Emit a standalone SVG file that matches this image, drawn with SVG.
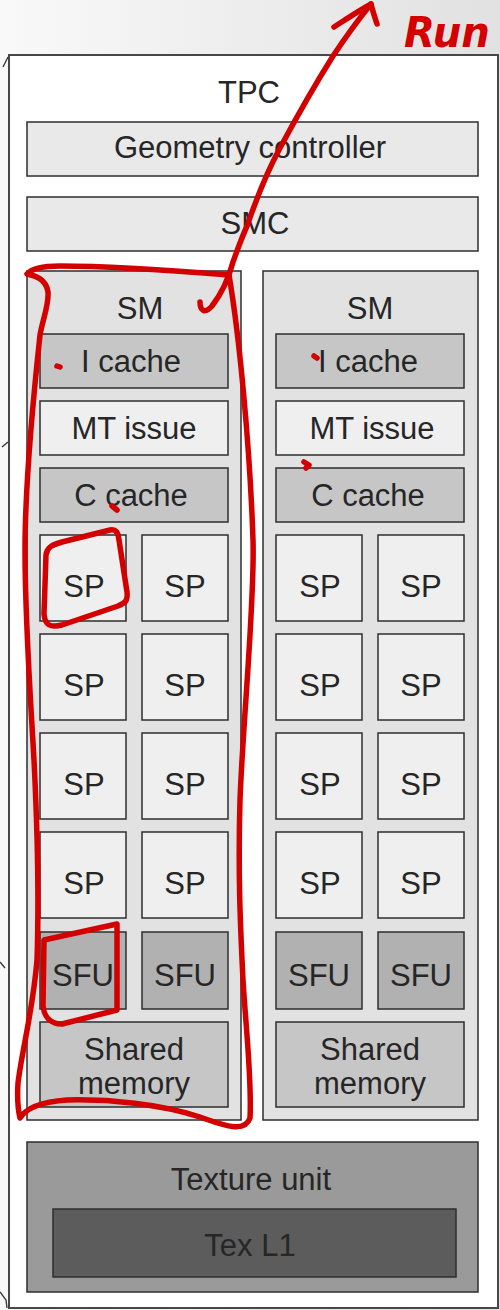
<svg xmlns="http://www.w3.org/2000/svg" width="500" height="1310" viewBox="0 0 500 1310">
  <defs>
    <linearGradient id="bg" x1="0" y1="0" x2="1" y2="0">
      <stop offset="0" stop-color="#f9f9f9"/>
      <stop offset="1" stop-color="#e1e1e1"/>
    </linearGradient>
    <style>
      .box { stroke: #2e2e2e; stroke-width: 1.5; }
      .lbl { font-family: "Liberation Sans", Arial, sans-serif; font-size: 31px; fill: #262626; text-anchor: middle; }
      .light { fill: #efefef; }
      .bar { fill: #e9e9e9; }
      .sm { fill: #e2e2e2; }
      .cache { fill: #c6c6c6; }
      .sfu { fill: #b1b1b1; }
      .tex { fill: #9a9a9a; }
      .texl1 { fill: #5c5c5c; }
      .ink { fill: none; stroke: #d40000; stroke-width: 5.5; stroke-linecap: round; stroke-linejoin: round; }
      .edge { fill: none; stroke: #333; stroke-width: 1.3; }
    </style>
  </defs>

  <!-- page background -->
  <rect x="0" y="0" width="500" height="1310" fill="url(#bg)"/>

  <!-- fragments of neighbouring arrows at the left margin -->
  <g id="margin-marks">
    <path class="edge" d="M3,67 L8,57 M8,57 L11,60"/>
    <path class="edge" d="M2,447 L8,442"/>
    <path class="edge" d="M0,962 L5,968"/>
    <path class="edge" d="M0,1292 L6,1300 L7,1308"/>
  </g>

  <!-- TPC -->
  <g id="tpc">
    <rect x="9" y="55" width="489" height="1253" fill="#ffffff" stroke="#474747" stroke-width="2"/>
    <text class="lbl" x="249" y="103">TPC</text>
  </g>

  <g id="geometry-controller">
    <rect class="box bar" x="27" y="122" width="451" height="54"/>
    <text class="lbl" x="250" y="158" font-size="33">Geometry controller</text>
  </g>

  <g id="smc">
    <rect class="box bar" x="27" y="197" width="451" height="54"/>
    <text class="lbl" x="255" y="234">SMC</text>
  </g>

  <!-- left SM -->
  <g id="sm-left">
    <rect class="box sm" x="27" y="271" width="214" height="849"/>
    <text class="lbl" x="140" y="319">SM</text>
  </g>
  <g id="sm-left-icache">
    <rect class="box cache" x="40" y="334" width="188" height="54"/>
    <text class="lbl" x="131" y="372">I cache</text>
  </g>
  <g id="sm-left-mtissue">
    <rect class="box light" x="40" y="401" width="188" height="54"/>
    <text class="lbl" x="134" y="439">MT issue</text>
  </g>
  <g id="sm-left-ccache">
    <rect class="box cache" x="40" y="468" width="188" height="54"/>
    <text class="lbl" x="131" y="506">C cache</text>
  </g>
  <g id="sm-left-sp1"><rect class="box light" x="40" y="535" width="86" height="86"/><text class="lbl" x="84" y="589" dy="8">SP</text></g>
  <g id="sm-left-sp2"><rect class="box light" x="142" y="535" width="86" height="86"/><text class="lbl" x="185" y="589" dy="8">SP</text></g>
  <g id="sm-left-sp3"><rect class="box light" x="40" y="634" width="86" height="86"/><text class="lbl" x="84" y="688" dy="8">SP</text></g>
  <g id="sm-left-sp4"><rect class="box light" x="142" y="634" width="86" height="86"/><text class="lbl" x="185" y="688" dy="8">SP</text></g>
  <g id="sm-left-sp5"><rect class="box light" x="40" y="733" width="86" height="86"/><text class="lbl" x="84" y="787" dy="8">SP</text></g>
  <g id="sm-left-sp6"><rect class="box light" x="142" y="733" width="86" height="86"/><text class="lbl" x="185" y="787" dy="8">SP</text></g>
  <g id="sm-left-sp7"><rect class="box light" x="40" y="832" width="86" height="86"/><text class="lbl" x="84" y="886" dy="8">SP</text></g>
  <g id="sm-left-sp8"><rect class="box light" x="142" y="832" width="86" height="86"/><text class="lbl" x="185" y="886" dy="8">SP</text></g>
  <g id="sm-left-sfu1"><rect class="box sfu" x="40" y="932" width="86" height="77"/><text class="lbl" x="83" y="986">SFU</text></g>
  <g id="sm-left-sfu2"><rect class="box sfu" x="142" y="932" width="86" height="77"/><text class="lbl" x="185" y="986">SFU</text></g>
  <g id="sm-left-shared">
    <rect class="box cache" x="40" y="1022" width="188" height="85"/>
    <text class="lbl" x="134" y="1060">Shared</text>
    <text class="lbl" x="134" y="1094">memory</text>
  </g>

  <!-- right SM -->
  <g id="sm-right">
    <rect class="box sm" x="263" y="271" width="215" height="849"/>
    <text class="lbl" x="370" y="319">SM</text>
  </g>
  <g id="sm-right-icache">
    <rect class="box cache" x="276" y="334" width="188" height="54"/>
    <text class="lbl" x="368" y="372">I cache</text>
  </g>
  <g id="sm-right-mtissue">
    <rect class="box light" x="276" y="401" width="188" height="54"/>
    <text class="lbl" x="372" y="439">MT issue</text>
  </g>
  <g id="sm-right-ccache">
    <rect class="box cache" x="276" y="468" width="188" height="54"/>
    <text class="lbl" x="368" y="506">C cache</text>
  </g>
  <g id="sm-right-sp1"><rect class="box light" x="276" y="535" width="86" height="86"/><text class="lbl" x="320" y="589" dy="8">SP</text></g>
  <g id="sm-right-sp2"><rect class="box light" x="378" y="535" width="86" height="86"/><text class="lbl" x="421" y="589" dy="8">SP</text></g>
  <g id="sm-right-sp3"><rect class="box light" x="276" y="634" width="86" height="86"/><text class="lbl" x="320" y="688" dy="8">SP</text></g>
  <g id="sm-right-sp4"><rect class="box light" x="378" y="634" width="86" height="86"/><text class="lbl" x="421" y="688" dy="8">SP</text></g>
  <g id="sm-right-sp5"><rect class="box light" x="276" y="733" width="86" height="86"/><text class="lbl" x="320" y="787" dy="8">SP</text></g>
  <g id="sm-right-sp6"><rect class="box light" x="378" y="733" width="86" height="86"/><text class="lbl" x="421" y="787" dy="8">SP</text></g>
  <g id="sm-right-sp7"><rect class="box light" x="276" y="832" width="86" height="86"/><text class="lbl" x="320" y="886" dy="8">SP</text></g>
  <g id="sm-right-sp8"><rect class="box light" x="378" y="832" width="86" height="86"/><text class="lbl" x="421" y="886" dy="8">SP</text></g>
  <g id="sm-right-sfu1"><rect class="box sfu" x="276" y="932" width="86" height="77"/><text class="lbl" x="319" y="986">SFU</text></g>
  <g id="sm-right-sfu2"><rect class="box sfu" x="378" y="932" width="86" height="77"/><text class="lbl" x="421" y="986">SFU</text></g>
  <g id="sm-right-shared">
    <rect class="box cache" x="276" y="1022" width="188" height="85"/>
    <text class="lbl" x="370" y="1060">Shared</text>
    <text class="lbl" x="370" y="1094">memory</text>
  </g>

  <!-- texture unit -->
  <g id="texture-unit">
    <rect class="box tex" x="27" y="1142" width="451" height="150"/>
    <text class="lbl" x="251" y="1190">Texture unit</text>
  </g>
  <g id="tex-l1">
    <rect class="box texl1" x="53" y="1209" width="403" height="68"/>
    <text class="lbl" x="250" y="1256">Tex L1</text>
  </g>

  <!-- red pen markup -->
  <g id="connectors">
    <!-- loop around the left SM -->
    <path class="ink" d="M229,275 C180,271 120,266 60,266 C45,266 32,268 27,274 C36,276 46,279 48,292 C49,305 43,318 40,335 C33,400 25,480 25,550 C25,620 30,690 34,760 C38,840 39,900 37,960 C33,1010 22,1050 18,1083 C17,1100 18,1110 20,1118 C26,1108 40,1102 67,1100 C110,1099 160,1104 200,1117 C225,1126 245,1133 250,1118 C252,1080 246,1030 243,980 C240,920 238,870 240,800 C243,720 255,600 253,540 C250,450 240,340 229,275"/>
    <!-- arrow out of the SM -->
    <path class="ink" d="M200,302 C200,311 205,314 212,306 C222,293 229,277 233,262 C238,248 242,237 247,226 C256,200 268,170 280,148 C295,120 313,88 333,56 C345,38 358,20 371,4"/>
    <path class="ink" d="M334,27 C348,18 360,10 371,4 C373,12 375,18 377,24"/>
    <!-- box around one SP -->
    <path class="ink" d="M46,555 C47,547 52,545 62,542 L110,530 C116,529 118,532 119,540 L127,592 C128,601 125,603 118,606 L62,625 C50,628 45,625 44,614 Z"/>
    <!-- box around one SFU -->
    <path class="ink" d="M44,940 L117,924 L117,1010 L62,1024 C50,1024 44,1016 43,1006 Z"/>
    <!-- small ticks -->
    <path class="ink" d="M57,366 L60,367" stroke-width="4"/>
    <path class="ink" d="M314,356 L317,358" stroke-width="3.5"/>
    <path class="ink" d="M304,462 L309,465 L306,468" stroke-width="2.5"/>
    <path class="ink" d="M112,506 L117,510" stroke-width="2.5"/>
  </g>

  <g id="note">
    <text x="404" y="47" font-family="DejaVu Sans, sans-serif" font-size="42" font-weight="bold" font-style="italic" fill="#d40000" textLength="86" lengthAdjust="spacingAndGlyphs">Run</text>
  </g>
</svg>
